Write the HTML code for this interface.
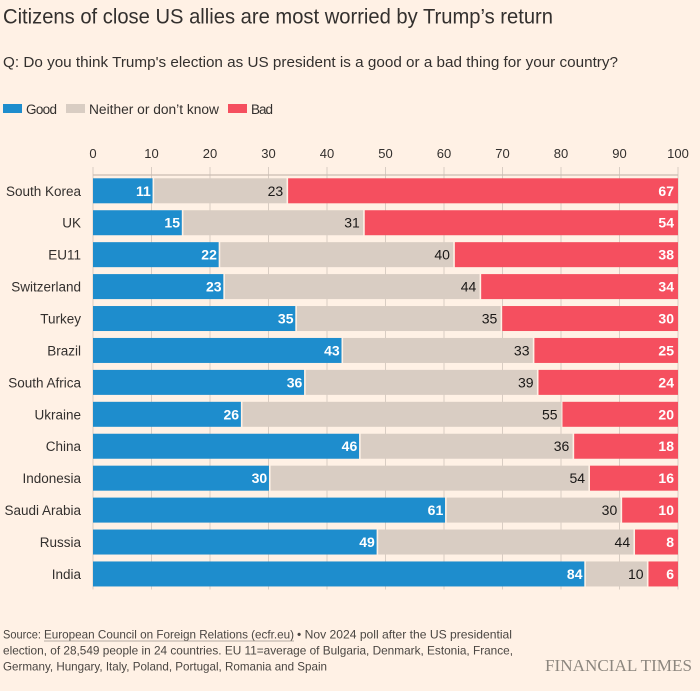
<!DOCTYPE html>
<html lang="en">
<head>
<meta charset="utf-8">
<title>Citizens of close US allies are most worried by Trump's return</title>
<style>
html,body{margin:0;padding:0;background:#fff1e5;}
body{width:700px;height:691px;overflow:hidden;}
svg{display:block;font-family:"Liberation Sans",sans-serif;}
</style>
</head>
<body>
<svg id="chart" width="700" height="691" viewBox="0 0 700 691" xmlns="http://www.w3.org/2000/svg">
  <rect x="0" y="0" width="700" height="691" fill="#fff1e5"/>
  <text x="3" y="23.5" font-size="21" fill="#33302e" textLength="550" lengthAdjust="spacingAndGlyphs">Citizens of close US allies are most worried by Trump’s return</text>
  <text x="3" y="67" font-size="15" fill="#33302e" textLength="615" lengthAdjust="spacingAndGlyphs">Q: Do you think Trump's election as US president is a good or a bad thing for your country?</text>

  <g>
    <rect x="3" y="104" width="19" height="9" fill="#1e8dcd"/>
    <text x="26" y="114" font-size="13.5" fill="#33302e" textLength="31" lengthAdjust="spacing">Good</text>
    <rect x="66" y="104" width="19" height="9" fill="#d9cdc3"/>
    <text x="89" y="114" font-size="13.5" fill="#33302e" textLength="130" lengthAdjust="spacingAndGlyphs">Neither or don’t know</text>
    <rect x="228" y="104" width="19" height="9" fill="#f54f5f"/>
    <text x="251" y="114" font-size="13.5" fill="#33302e" textLength="22" lengthAdjust="spacing">Bad</text>
  </g>

  <g id="grid"></g>
  <g id="ticks"></g>
  <g id="cats"></g>
  <g id="bars"></g>
  <g id="vals"></g>

  <g font-size="12" fill="#4a4642">
    <text x="3" y="638.5" textLength="38" lengthAdjust="spacingAndGlyphs">Source:</text>
    <text x="44" y="638.5" textLength="250" lengthAdjust="spacingAndGlyphs">European Council on Foreign Relations (ecfr.eu)</text>
    <text x="297" y="638.5" textLength="215" lengthAdjust="spacingAndGlyphs">• Nov 2024 poll after the US presidential</text>
    <text x="3" y="654.5" textLength="510" lengthAdjust="spacingAndGlyphs">election, of 28,549 people in 24 countries. EU 11=average of Bulgaria, Denmark, Estonia, France,</text>
    <text x="3" y="670.5" textLength="324" lengthAdjust="spacingAndGlyphs">Germany, Hungary, Italy, Poland, Portugal, Romania and Spain</text>
    <line x1="44" x2="294" y1="641" y2="641" stroke="#9b948c" stroke-width="0.8"/>
  </g>
  <text x="545" y="671" font-family="'Liberation Serif',serif" font-size="17" fill="#8d877f" textLength="147" lengthAdjust="spacingAndGlyphs">FINANCIAL TIMES</text>
</svg>
<script>
var categories = ["South Korea","UK","EU11","Switzerland","Turkey","Brazil","South Africa","Ukraine","China","Indonesia","Saudi Arabia","Russia","India"];
var goodValues = [10.3,15.3,21.6,22.4,34.7,42.6,36.2,25.4,45.6,30.2,60.3,48.6,84.1];
var neitherValues = [22.9,31,40.1,43.8,35.1,32.7,39.8,54.7,36.5,54.6,30,43.9,10.7];
var badValues = [66.8,53.7,38.3,33.8,30.2,24.7,24,19.9,17.9,15.2,9.7,7.5,5.2];
var goodLabels = [11,15,22,23,35,43,36,26,46,30,61,49,84];
var neitherLabels = [23,31,40,44,35,33,39,55,36,54,30,44,10];
var badLabels = [67,54,38,34,30,25,24,20,18,16,10,8,6];
var tickValues = [0,10,20,30,40,50,60,70,80,90,100];

var NS = "http://www.w3.org/2000/svg";
function xScale(v){ return 93 + v * 5.85; }
function rowTop(i){ return 178.3 + i * 31.93; }
var BAR_H = 25;

function make(tag, parentId, attrs, txt){
  var el = document.createElementNS(NS, tag);
  for (var k in attrs) el.setAttribute(k, attrs[k]);
  if (txt !== undefined) el.textContent = txt;
  document.getElementById(parentId).appendChild(el);
  return el;
}

tickValues.forEach(function(t){
  var x = xScale(t);
  var g = make("line","grid",{x1:x,x2:x,y1:167,y2:589.5,stroke:"#d9cdc3","stroke-width":1});
  
  
  var l = make("text","ticks",{x:x,y:158,"font-size":13,fill:"#33302e","text-anchor":"middle"},String(t));
  
  
});

var axisLine = make("line","grid",{x1:xScale(0),x2:xScale(100),y1:175,y2:175,stroke:"#c9bdb2","stroke-width":1.2});



categories.forEach(function(c,i){
  var y = rowTop(i);
  var slug = c.toLowerCase().replace(/\s+/g,'-');
  var cat = make("text","cats",{x:81,y:y+17.5,"font-size":13.5,fill:"#33302e","text-anchor":"end"},c);
  
  

  var g0 = 0, g1 = goodValues[i], n1 = g1 + neitherValues[i], b1 = n1 + badValues[i];

  var rg = make("rect","bars",{x:xScale(g0),y:y,width:xScale(g1)-xScale(g0)-0.7,height:BAR_H,fill:"#1e8dcd"});
  
  
  var rn = make("rect","bars",{x:xScale(g1)+0.9,y:y,width:xScale(n1)-xScale(g1)-1.6,height:BAR_H,fill:"#d9cdc3"});
  
  
  var rb = make("rect","bars",{x:xScale(n1)+0.9,y:y,width:xScale(b1)-xScale(n1)-0.9,height:BAR_H,fill:"#f54f5f"});
  
  

  var base = y + 17.5;
  var vg = make("text","vals",{x:xScale(g1)-2.5,y:base,"font-size":14,"font-weight":"bold",fill:"#fff","text-anchor":"end"},String(goodLabels[i]));
  
  
  var vn = make("text","vals",{x:xScale(n1)-4,y:base,"font-size":14,fill:"#1a1817","text-anchor":"end"},String(neitherLabels[i]));
  
  
  var vb = make("text","vals",{x:xScale(b1)-4,y:base,"font-size":14,"font-weight":"bold",fill:"#fff","text-anchor":"end"},String(badLabels[i]));
  
  
});
</script>
</body>
</html>
